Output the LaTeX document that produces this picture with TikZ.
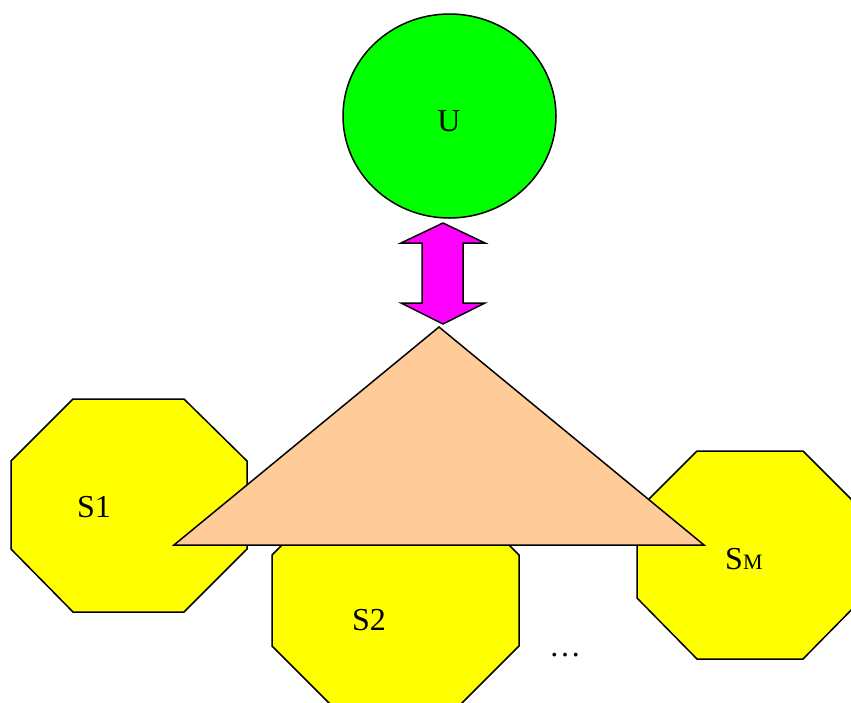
\documentclass[tikz,border=0pt]{standalone}
\usepackage{fontspec}
\setmainfont{Liberation Serif}
\definecolor{octyellow}{RGB}{255,255,0}
\definecolor{peach}{RGB}{255,204,153}
\definecolor{ugreen}{RGB}{0,255,0}
\definecolor{amag}{RGB}{255,0,255}
\begin{document}
\begin{tikzpicture}[x=1pt,y=-1pt,
  outline/.style={draw=black,line width=1.5pt,line join=miter},
  octa/.style={outline,fill=octyellow},
  lbl/.style={inner sep=0pt,font=\fontsize{32}{36}\selectfont}]
\useasboundingbox (0,0) rectangle (851,702);
\clip (0,0) rectangle (851,702);
% yellow octagons
\draw[octa] (73,399)--(184,399)--(247,461)--(247,549)--(184,612)--(73,612)--(11,549)--(11,461)--cycle;
\draw[octa] (337,490)--(454,490)--(519,555)--(519,646)--(454,711)--(337,711)--(272,646)--(272,555)--cycle;
\draw[octa] (697,451)--(803,451)--(863,511)--(863,598)--(803,659)--(697,659)--(637,598)--(637,511)--cycle;
% triangle
\draw[outline,fill=peach] (439,327)--(704,545)--(174,545)--cycle;
% U circle
\draw[outline,fill=ugreen] (449.5,116) ellipse [x radius=106.5,y radius=102];
% double arrow
\draw[outline,fill=amag]
  (443,223)--(485,243)--(463,243)--(463,303)--(485,303)--(443,324)--(401,303)--(422,303)--(422,243)--(401,243)--cycle;
% labels
\node[lbl] (u) at (449,121) {U};
\node[lbl] (s1) at (94,507) {S1};
\node[lbl] (s2) at (369,620) {S2};
\node[lbl,anchor=base west] (sm) at (725,569) {S{\fontsize{22}{24}\selectfont M}};
\node[lbl] (dots) at (565,655) {\dots};
\end{tikzpicture}
\end{document}
